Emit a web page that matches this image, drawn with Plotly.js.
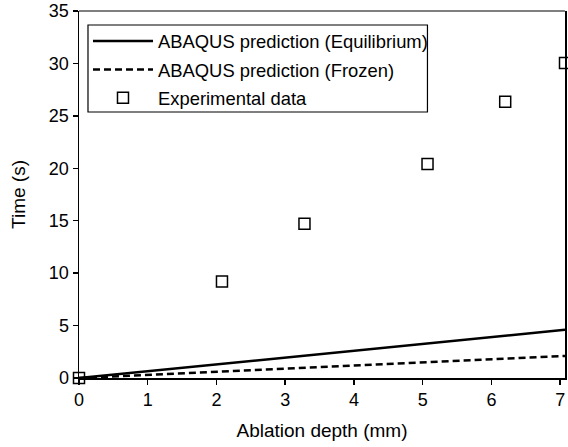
<!DOCTYPE html>
<html><head><meta charset="utf-8">
<script src="https://cdn.plot.ly/plotly-3.0.1.min.js"></script>
<style>html,body{margin:0;padding:0;background:#fff}#chart{width:568px;height:447px}</style>
</head><body><div id="chart"></div>
<script>
// Model predictions
const modelDepth = [0, 7.07];
const timeEquilibrium = [0, 4.6];
const timeFrozen = [0, 2.1];
// Experimental data
const expDepth = [0, 2.08, 3.28, 5.07, 6.2, 7.07];
const expTime = [0, 9.2, 14.7, 20.4, 26.35, 30.05];
const xTicks = [0, 1, 2, 3, 4, 5, 6, 7];
const yTicks = [0, 5, 10, 15, 20, 25, 30, 35];

const traces = [
  {x: modelDepth, y: timeEquilibrium, mode: 'lines', name: 'ABAQUS prediction (Equilibrium)',
   line: {color: '#000', width: 2.5}, legendgroup: 'a'},
  {x: modelDepth, y: timeFrozen, mode: 'lines', name: 'ABAQUS prediction (Frozen)',
   line: {color: '#000', width: 2.5, dash: '7px,4px'}, legendgroup: 'b'},
  {x: expDepth, y: expTime, mode: 'markers', name: 'Experimental data',
   marker: {symbol: 'square-open', size: 11, color: '#000', line: {width: 1.5, color: '#000'}},
   cliponaxis: false, legendgroup: 'c'}
];

const layout = {
  width: 568, height: 447,
  margin: {l: 79, r: 3, t: 11, b: 69},
  paper_bgcolor: '#fff', plot_bgcolor: '#fff',
  font: {family: 'Liberation Sans, Arial, sans-serif', size: 18, color: '#000'},
  showlegend: true,
  legend: {x: 0.0185, y: 0.9685, xanchor: 'left', yanchor: 'top',
    borderwidth: 0, bgcolor: 'rgba(0,0,0,0)',
    font: {size: 18.4}, traceorder: 'grouped', tracegroupgap: 1.5, itemwidth: 60},
  xaxis: {range: [0, 7.07], tickvals: xTicks, ticktext: xTicks.map(String),
    showgrid: false, zeroline: false, showline: true, linecolor: '#000', linewidth: 1.5,
    ticks: 'outside', ticklen: 5, tickcolor: '#000', tickwidth: 1.5,
    tickfont: {size: 18},
    title: {text: 'Ablation depth (mm)', font: {size: 19}, standoff: 14}},
  yaxis: {range: [0, 35], tickvals: yTicks, ticktext: yTicks.map(String),
    showgrid: false, zeroline: false, showline: true, mirror: true, linecolor: '#000', linewidth: 1.5,
    ticks: 'outside', ticklen: 5, tickcolor: '#000', tickwidth: 1.5,
    tickfont: {size: 18},
    title: {text: 'Time (s)', font: {size: 19}, standoff: 18}},
  shapes: [
    {type: 'line', xref: 'paper', yref: 'paper', x0: 0, x1: 1, y0: 1, y1: 1,
      line: {color: '#555', width: 1.5}},
    {type: 'rect', xref: 'paper', yref: 'paper', x0: 0.0185, x1: 0.717, y0: 0.7248, y1: 0.9619,
      line: {color: '#000', width: 1.2}, fillcolor: '#fff', layer: 'below'}
  ]
};
Plotly.newPlot('chart', traces, layout, {displayModeBar: false, staticPlot: true});
</script></body></html>
